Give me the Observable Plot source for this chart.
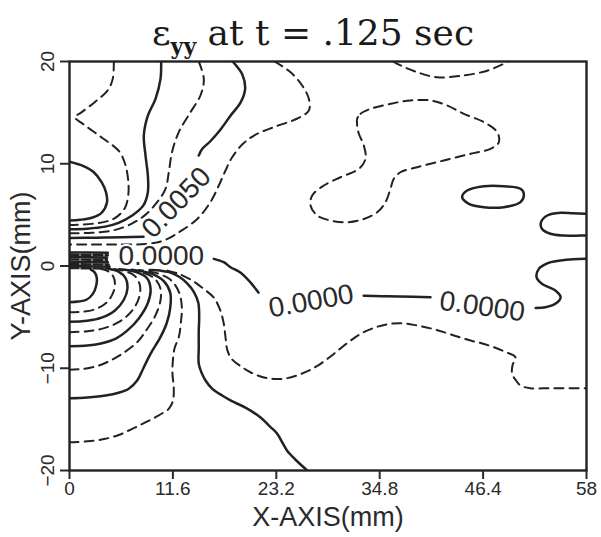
<!DOCTYPE html>
<html>
<head>
<meta charset="utf-8">
<script src="https://cdn.jsdelivr.net/npm/d3@7"></script>
<script src="https://cdn.jsdelivr.net/npm/@observablehq/plot@0.6"></script>
<style>
  body { margin: 0; background: white; }
</style>
</head>
<body>
<div id="chart"></div>
<script>
// ---------- axes ----------
const xTicks = [0, 11.6, 23.2, 34.8, 46.4, 58];
const xTickLabels = ["0", "11.6", "23.2", "34.8", "46.4", "58"];
const yTicks = [-20, -10, 0, 10, 20];
const yTickLabels = ["\u221220", "\u221210", "0", "10", "20"];

// ---------- contour lines (data coords: x mm, y mm) ----------
// upper-left family
const D12 = [[4.97,20],[4.85,18.3],[4.3,17.2],[2.8,16.0],[1.3,15.0],[0.6,14.55],[1.5,13.9],[3.65,12.55],[5.58,11.2],[6.3,9.8],[6.6,8.2],[6.6,7.0],[6.23,5.7],[5.3,4.8],[4.3,4.4],[2.5,4.12],[0,4.02]];
const S1 = [[0,10.2],[1.5,9.8],[2.7,9.2],[3.6,8.2],[4.1,7.2],[4.2,6.2],[3.6,5.2],[2.5,4.72],[1.2,4.52],[0,4.45]];
const S2 = [[10.28,20],[10.21,18.3],[9.65,16.35],[8.79,14.7],[8.34,12.76],[8.53,10.8],[8.79,8.85],[8.79,7.22],[8.27,5.9],[7.03,4.94],[5.5,4.22],[4.0,3.85],[2,3.65],[0,3.6]];
const D4 = [[14.5,20],[15.07,18.3],[14.7,16.7],[13.57,15.04],[12.26,13.1],[11.5,11.13],[11.14,9.17],[10.77,7.55],[9.83,6.24],[8.5,5.0],[7.0,4.15],[5.0,3.5],[2.5,3.25],[0,3.2]];
const S3a = [[18.3,20],[19.4,18.7],[19.7,17.3],[19.2,16.0],[18.06,14.7],[16.9,13.3],[15.8,12.2],[14.9,11.46],[14.5,10.8]];
const S3b = [[8.3,2.85],[6,2.82],[3,2.77],[0,2.75]];
const D5 = [[23.0,20],[24.8,18.95],[26.1,17.65],[26.85,16.35],[26.85,15.2],[25.5,14.4],[22.9,13.58],[20.7,12.76],[19.4,11.9],[18.25,10.64],[17.5,9.34],[16.75,7.87],[15.8,6.24],[14.33,4.6],[12.45,3.4],[10.6,2.5],[8.5,2.15],[5,2.1],[2,2.1],[0,2.1]];
// dense block near the origin
const B1 = [[0,1.32],[2,1.32],[4.3,1.3]];
const B2 = [[0,1.1],[4.3,1.05]];
const B3 = [[0,0.88],[4.2,0.82]];
const B4 = [[0,0.65],[4.2,0.58]];
const B5 = [[0,0.42],[4.3,0.35]];
const B6 = [[0,0.2],[4.4,0.12]];
const B7 = [[0,0.0],[4.5,-0.08]];
const B8 = [[0,-0.2],[4.4,-0.25]];
// lower-left family
const L1 = [[0,-3.54],[1.0,-3.48],[1.9,-3.3],[2.6,-2.75],[3.0,-1.9],[3.05,-1.1],[2.8,-0.6],[2.4,-0.35]];
const L2 = [[0,-4.52],[1.5,-4.47],[2.8,-4.25],[4.0,-3.7],[4.8,-2.8],[5.1,-1.8],[4.9,-1.0],[4.3,-0.5],[3.6,-0.3]];
const L3 = [[0,-5.45],[2,-5.35],[3.6,-5.05],[5.1,-4.35],[6.1,-3.3],[6.5,-2.2],[6.3,-1.2],[5.5,-0.55],[4.4,-0.3]];
const L4 = [[0,-6.47],[2,-6.38],[3.8,-6.1],[5.6,-5.45],[7.0,-4.4],[7.8,-3.1],[7.9,-1.9],[7.3,-0.95],[6.2,-0.5],[5.0,-0.3]];
const L5 = [[0,-7.85],[2,-7.78],[3.4,-7.6],[5.2,-7.1],[6.5,-6.3],[7.8,-5.1],[8.8,-3.6],[9.1,-2.3],[8.7,-1.2],[7.5,-0.6],[5.6,-0.32]];
const L6 = [[0,-10.15],[1.7,-10.05],[3.3,-9.73],[4.7,-9.2],[5.9,-8.59],[7.6,-7.45],[8.6,-6.3],[9.6,-4.9],[10.2,-3.4],[10.2,-2.2],[9.5,-1.2],[8.0,-0.6],[6.3,-0.34]];
const L7 = [[0,-12.93],[2,-12.85],[4.04,-12.67],[5.5,-12.4],[6.65,-12.0],[7.59,-11.2],[8.34,-9.9],[9.09,-8.59],[10.2,-6.96],[10.9,-5.6],[11.3,-4.1],[11.3,-2.6],[10.6,-1.5],[9.2,-0.75],[7.0,-0.36]];
const L8 = [[0,-17.23],[2,-17.15],[4.04,-16.9],[5.6,-16.5],[7.03,-15.93],[8.4,-15.35],[9.65,-14.79],[10.6,-14.3],[11.14,-13.97],[11.6,-13.2],[11.7,-12.0],[11.55,-10.5],[11.6,-9.2],[11.8,-8.0],[12.26,-6.96],[12.5,-5.5],[12.6,-4.0],[12.3,-2.6],[11.4,-1.4],[9.8,-0.7],[7.8,-0.38]];
const S4 = [[9.0,-0.4],[10.2,-0.45],[11.17,-0.6],[12.3,-1.05],[13.2,-1.7],[13.96,-2.55],[14.45,-3.6],[14.55,-5.0],[14.5,-6.3],[14.5,-8.0],[14.5,-9.57],[14.85,-10.5],[15.26,-11.2],[16.0,-12.0],[17.13,-12.67],[18.06,-13.15],[19.74,-13.85],[21.4,-14.79],[22.5,-15.7],[23.3,-16.4],[23.9,-17.3],[24.4,-18.04],[25.3,-18.9],[26.67,-20]];
const D6 = [[11.0,-0.45],[12.2,-0.75],[13.76,-1.42],[15.0,-2.2],[16.2,-3.1],[16.9,-4.3],[17.3,-5.6],[17.5,-6.96],[17.7,-8.2],[18.2,-9.1],[19.37,-9.9],[20.3,-10.39],[21.6,-10.85],[22.9,-11.04],[24.2,-11.0],[25.5,-10.71],[26.9,-10.2],[28.16,-9.57],[29.5,-8.7],[30.8,-7.78],[32.0,-7.0],[33.0,-6.47],[34.5,-5.95],[36.0,-5.65],[37.5,-5.6],[39.0,-5.82],[40.5,-6.1],[42.0,-6.47],[43.5,-6.9],[45.0,-7.29],[46.4,-7.6],[47.6,-7.94],[48.9,-8.4],[50.03,-8.92],[49.7,-9.7],[49.66,-10.55],[50.1,-11.2],[50.6,-11.69],[51.7,-11.95],[54,-11.95],[58,-11.95]];
// zero contour pieces (between labels)
const Z1 = [[16.2,0.7],[17.3,0.37],[18.06,-0.12],[19.2,-0.65],[20.3,-1.6],[21.2,-2.6]];
const Z2 = [[33.0,-2.9],[35,-2.95],[37,-2.98],[40.5,-3.05]];
const Z3 = [[52.3,-4.1],[53.4,-4.03],[54.5,-3.7],[55.1,-3.05],[54.5,-2.4],[53.0,-1.74],[52.4,-1.1],[52.65,-0.28],[53.2,0.08],[54.0,0.38],[55.08,0.54],[56.5,0.66],[58,0.7]];
// right half
const D7 = [[36.3,20],[36.76,19.77],[39.0,18.95],[41.25,18.46],[44.2,18.63],[46.86,19.1],[48.7,19.77],[49.2,20]];
const D8 = [[32.27,14.4],[32.65,14.88],[33.77,15.37],[36.01,15.86],[38.25,16.19],[40.5,16.19],[42.37,15.7],[44.24,14.88],[46.48,14.07],[47.98,13.09],[48.17,12.11],[47.23,11.46],[44.99,10.97],[41.99,10.32],[39.0,9.66],[37.13,9.17],[36.38,8.53],[36.01,7.55],[35.45,6.24],[34.52,5.26],[33.02,4.6],[31.15,4.28],[29.28,4.45],[27.79,4.94],[27.04,5.92],[27.23,6.9],[28.53,7.87],[30.4,8.68],[32.46,9.5],[33.21,10.48],[33.02,11.78],[32.46,12.93],[32.27,13.74]];
const O1 = [[44.05,6.73],[44.61,7.38],[46.48,7.8],[48.72,7.8],[50.6,7.55],[50.97,7.06],[50.6,6.24],[48.72,5.75],[46.48,5.75],[44.8,6.08]];
const O2 = [[58,5.1],[56.5,5.15],[55.08,5.2],[53.6,4.94],[52.9,4.28],[53.0,3.64],[53.96,3.15],[55.45,2.98],[56.8,2.97],[58,2.98]];

// contour labels
const labelText = ["0.0000", "0.0050", "0.0000", "0.0000"];
const labelX = [10.3, 12.0, 27.1, 46.3];
const labelY = [0.95, 6.2, -3.44, -3.96];
const labelAngle = [0, -46, -10, 8];

// groupings
const solidOpen = [S1, S2, S3a, S3b, L1, L3, L5, L7, S4, Z1, Z2, Z3, O2];
const dashedOpen = [D12, D4, D5, L2, L4, L6, L8, D6, D7];
const solidClosed = [O1];
const dashedClosed = [D8];
const blockSolid = [B1, B3, B5, B7];
const blockDashed = [B2, B4, B6, B8];

const rows = (lines) => lines.flatMap((pts, k) => pts.map(([x, y]) => ({k, x, y})));
const labels = labelText.map((t, i) => ({t, x: labelX[i], y: labelY[i], a: labelAngle[i]}));

const ink = "#222222";
const solid = {x: "x", y: "y", z: "k", stroke: ink, strokeWidth: 2.5, clip: true};
const dashed = {...solid, strokeWidth: 2, strokeDasharray: "9,6"};

const plot = Plot.plot({
  width: 601,
  height: 537,
  marginLeft: 69,
  marginRight: 15,
  marginTop: 61,
  marginBottom: 67,
  x: {domain: [0, 58]},
  y: {domain: [-20, 20]},
  style: {fontFamily: "'Liberation Sans', Arial, sans-serif", background: "white", color: "#2a2a2a"},
  marks: [
    Plot.line(rows(blockSolid), {...solid, strokeWidth: 2.6}),
    Plot.line(rows(blockDashed), {...dashed, strokeWidth: 2.4, strokeDasharray: "9,3"}),
    Plot.line(rows(solidOpen), {...solid, curve: "catmull-rom"}),
    Plot.line(rows(dashedOpen), {...dashed, curve: "catmull-rom"}),
    Plot.line(rows(solidClosed), {...solid, curve: "catmull-rom-closed"}),
    Plot.line(rows(dashedClosed), {...dashed, curve: "catmull-rom-closed"}),
    Plot.text(labels, {x: "x", y: "y", text: "t", rotate: "a", fontSize: 28, fill: "#2a2a2a",
      stroke: "white", strokeWidth: 4, paintOrder: "stroke"}),
    Plot.frame({stroke: ink, strokeWidth: 2.4}),
    Plot.axisX({ticks: xTicks, tickSize: 9, tickPadding: 2, fontSize: 19, strokeWidth: 2, label: null,
      tickFormat: d => xTickLabels[xTicks.indexOf(d)]}),
    Plot.axisY({ticks: yTicks, tickSize: 9, strokeWidth: 2, label: null, tickFormat: () => ""}),
    Plot.text(yTicks, {y: d => d, text: (d, i) => yTickLabels[i], frameAnchor: "left", dx: -22,
      rotate: -90, textAnchor: "middle", lineAnchor: "middle", fontSize: 19, fill: "#2a2a2a"}),
    Plot.text(["X-AXIS(mm)"], {text: d => d, frameAnchor: "bottom", dy: 47, textAnchor: "middle",
      lineAnchor: "middle", fontSize: 27, fill: "#2a2a2a"}),
    Plot.text(["Y-AXIS(mm)"], {text: d => d, frameAnchor: "left", dx: -48, rotate: -90, textAnchor: "middle",
      lineAnchor: "middle", fontSize: 27, fill: "#2a2a2a"})
  ]
});

document.getElementById("chart").appendChild(plot);

// title with subscript
const title = d3.select(plot).append("text")
  .attr("x", 313).attr("y", 45)
  .attr("text-anchor", "middle")
  .attr("font-family", "'DejaVu Serif', 'Liberation Serif', serif")
  .attr("font-size", 36)
  .attr("fill", "#1a1a1a");
title.append("tspan").text("\u03b5");
title.append("tspan").attr("font-size", 22).attr("font-weight", "bold").attr("dy", 9).text("yy");
title.append("tspan").attr("dy", -9).text(" at t = .125 sec");
</script>
</body>
</html>
